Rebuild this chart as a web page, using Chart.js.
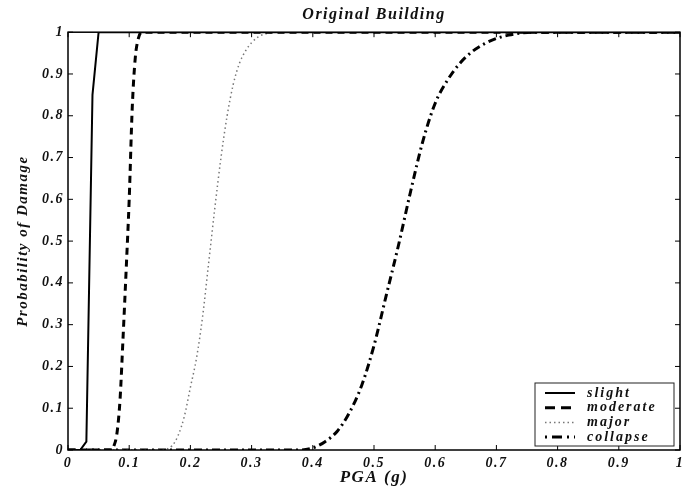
<!DOCTYPE html>
<html>
<head>
<meta charset="utf-8">
<script src="https://cdn.jsdelivr.net/npm/chart.js@4.4.0/dist/chart.umd.min.js"></script>
<style>
  html, body { margin: 0; padding: 0; background: #fff; }
</style>
</head>
<body>
<canvas id="fragility" width="682" height="490"></canvas>
<script>
// PGA (g) / probability pairs
var slightPga = [0, 0.02, 0.03, 0.04, 0.05, 1];
var slightProb = [0, 0, 0.02, 0.85, 1, 1];

var moderatePga = [0, 0.07, 0.075, 0.08, 0.085, 0.09, 0.095, 0.1, 0.105, 0.11, 0.115, 0.12, 1];
var moderateProb = [0, 0, 0.01, 0.04, 0.12, 0.27, 0.43, 0.6, 0.82, 0.94, 0.985, 1, 1];

var majorPga = [0, 0.15, 0.16, 0.17, 0.18, 0.19, 0.2, 0.21, 0.22, 0.23, 0.24, 0.25, 0.26, 0.27, 0.28, 0.29, 0.3, 0.31, 0.32, 0.34, 1];
var majorProb = [0, 0, 0.002, 0.01, 0.035, 0.08, 0.15, 0.22, 0.32, 0.45, 0.58, 0.7, 0.8, 0.875, 0.925, 0.955, 0.975, 0.988, 0.995, 1, 1];

var collapsePga = [0, 0.38, 0.4, 0.42, 0.44, 0.46, 0.48, 0.5, 0.52, 0.54, 0.56, 0.58, 0.6, 0.62, 0.64, 0.66, 0.68, 0.7, 0.72, 0.74, 0.76, 1];
var collapseProb = [0, 0, 0.005, 0.02, 0.045, 0.09, 0.155, 0.25, 0.37, 0.49, 0.62, 0.74, 0.83, 0.885, 0.925, 0.953, 0.972, 0.985, 0.993, 0.998, 1, 1];

var seriesLabels = ['slight', 'moderate', 'major', 'collapse'];

var SPACING = '1.5px';

function toPoints(xs, ys) {
    return xs.map(function(x, i) { return { x: x, y: ys[i] }; });
}

// matlab style labels: 0, 0.1 ... 0.9, 1
function tickLabel(value) {
    return String(Math.round(value * 10) / 10);
}

Chart.defaults.font.family = "'Liberation Serif', 'Times New Roman', serif";
Chart.defaults.font.style = 'italic';
Chart.defaults.font.weight = 'bold';
Chart.defaults.color = '#111';

// frame with inward ticks + legend box in the lower right of the plot
var frameAndLegend = {
    id: 'frameAndLegend',
    beforeUpdate: function(chart) { chart.ctx.letterSpacing = SPACING; },
    beforeDraw: function(chart) { chart.ctx.letterSpacing = SPACING; },
    afterDatasetsDraw: function(chart) {
        var ctx = chart.ctx;
        var a = chart.chartArea;
        var xs = chart.scales.x, ys = chart.scales.y;
        var tick = 5;

        ctx.save();
        ctx.strokeStyle = '#000';
        ctx.lineWidth = 1.5;
        ctx.strokeRect(a.left, a.top, a.right - a.left, a.bottom - a.top);

        ctx.lineWidth = 1;
        ctx.beginPath();
        xs.ticks.forEach(function(t) {
            var px = xs.getPixelForValue(t.value);
            ctx.moveTo(px, a.bottom); ctx.lineTo(px, a.bottom - tick);
            ctx.moveTo(px, a.top); ctx.lineTo(px, a.top + tick);
        });
        ys.ticks.forEach(function(t) {
            var py = ys.getPixelForValue(t.value);
            ctx.moveTo(a.left, py); ctx.lineTo(a.left + tick, py);
            ctx.moveTo(a.right, py); ctx.lineTo(a.right - tick, py);
        });
        ctx.stroke();

        // legend
        var w = 139, h = 63;
        var bx = a.right - 6 - w, by = a.bottom - 4 - h;
        ctx.fillStyle = '#fff';
        ctx.fillRect(bx, by, w, h);
        ctx.strokeStyle = '#222';
        ctx.lineWidth = 1;
        ctx.strokeRect(bx, by, w, h);

        ctx.font = "italic bold 14px 'Liberation Serif', 'Times New Roman', serif";
        ctx.letterSpacing = '2px';
        ctx.textBaseline = 'middle';
        ctx.textAlign = 'left';
        chart.data.datasets.forEach(function(ds, i) {
            var yy = by + 10 + i * 14.7;
            ctx.strokeStyle = ds.borderColor;
            ctx.lineWidth = ds.borderWidth;
            ctx.setLineDash(ds.legendDash || ds.borderDash || []);
            ctx.beginPath();
            ctx.moveTo(bx + 10, yy);
            ctx.lineTo(bx + 40, yy);
            ctx.stroke();
            ctx.setLineDash([]);
            ctx.fillStyle = '#111';
            ctx.fillText(ds.label, bx + 52, yy);
        });
        ctx.restore();
    }
};

new Chart(document.getElementById('fragility'), {
    type: 'line',
    data: {
        datasets: [
            {
                label: seriesLabels[0],
                data: toPoints(slightPga, slightProb),
                borderColor: '#000',
                borderWidth: 2,
                borderDash: [],
                tension: 0
            },
            {
                label: seriesLabels[1],
                data: toPoints(moderatePga, moderateProb),
                borderColor: '#000',
                borderWidth: 3,
                borderDash: [7, 5],
                legendDash: [10, 6],
                cubicInterpolationMode: 'monotone'
            },
            {
                label: seriesLabels[2],
                data: toPoints(majorPga, majorProb),
                borderColor: '#777',
                borderWidth: 1.5,
                borderDash: [1.5, 3],
                cubicInterpolationMode: 'monotone'
            },
            {
                label: seriesLabels[3],
                data: toPoints(collapsePga, collapseProb),
                borderColor: '#000',
                borderWidth: 3,
                borderDash: [8, 4, 2, 4],
                legendDash: [2, 5, 10, 5],
                cubicInterpolationMode: 'monotone'
            }
        ]
    },
    options: {
        responsive: false,
        animation: false,
        devicePixelRatio: 1,
        layout: { padding: { left: 0, right: 2, top: 0, bottom: 0 } },
        elements: { point: { radius: 0 } },
        plugins: {
            legend: { display: false },
            tooltip: { enabled: false },
            title: {
                display: true,
                text: 'Original Building',
                fullSize: false,
                color: '#111',
                font: { size: 16, lineHeight: 1.2 },
                padding: { top: 5, bottom: 8 }
            }
        },
        scales: {
            x: {
                type: 'linear',
                min: 0,
                max: 1,
                border: { display: false },
                grid: { display: false, drawTicks: false },
                ticks: { stepSize: 0.1, padding: 5, maxRotation: 0, font: { size: 14 }, callback: tickLabel },
                title: {
                    display: true,
                    text: 'PGA (g)',
                    font: { size: 17, lineHeight: 1.2 },
                    padding: { top: 0, bottom: 2 }
                },
                afterFit: function(scale) {
                    scale.height = 40;
                    scale.paddingLeft = 0;
                    scale.paddingRight = 0;
                }
            },
            y: {
                type: 'linear',
                min: 0,
                max: 1,
                border: { display: false },
                grid: { display: false, drawTicks: false },
                ticks: { stepSize: 0.1, padding: 4, font: { size: 14 }, callback: tickLabel },
                title: {
                    display: true,
                    text: 'Probability of Damage',
                    font: { size: 15, lineHeight: 1.2 },
                    padding: { top: 14, bottom: 0 }
                },
                afterFit: function(scale) {
                    scale.width = 68;
                    scale.paddingTop = 0;
                    scale.paddingBottom = 0;
                }
            }
        }
    },
    plugins: [frameAndLegend]
});
</script>
</body>
</html>
